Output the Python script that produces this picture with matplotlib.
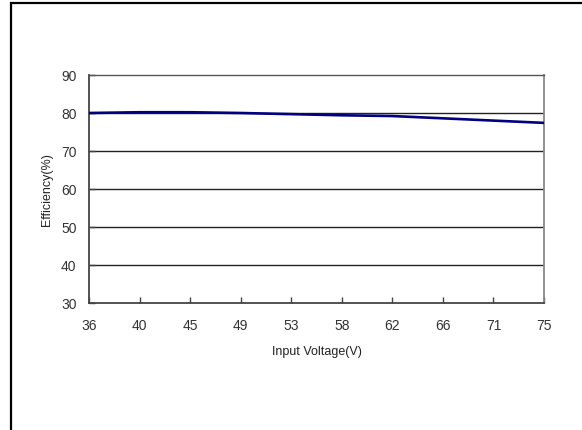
import matplotlib.pyplot as plt
from matplotlib.patches import Rectangle

plt.rcParams["font.family"] = ["Liberation Sans", "DejaVu Sans"]

voltages = ["36", "40", "45", "49", "53", "58", "62", "66", "71", "75"]
efficiency = [80.0, 80.2, 80.2, 80.0, 79.7, 79.4, 79.2, 78.6, 78.0, 77.4]
y_ticks = [30, 40, 50, 60, 70, 80, 90]

W, H = 582, 431
fig = plt.figure(figsize=(W / 100, H / 100), dpi=100)
ax = fig.add_axes([89 / W, 1 - 304 / H, (544 - 89) / W, (304 - 76) / H])

x = list(range(len(voltages)))
for yv in y_ticks[1:-1]:
    ax.axhline(yv, color="#222222", lw=1.0, zorder=1)
ax.plot(x, efficiency, color="#000080", lw=1.9, zorder=3)

ax.set_xlim(0, len(voltages) - 1)
ax.set_ylim(30, 90)
ax.set_xticks(x)
ax.set_xticklabels(voltages)
ax.set_yticks(y_ticks)

for side in ["left", "bottom"]:
    ax.spines[side].set_color("#444444")
    ax.spines[side].set_linewidth(1.3)
ax.spines["top"].set_color("#555555")
ax.spines["top"].set_linewidth(1.0)
ax.spines["right"].set_color("#888888")
ax.spines["right"].set_linewidth(1.3)

ax.tick_params(axis="x", direction="in", length=4, width=1, color="#444444",
               labelsize=10, labelcolor="#333333", pad=11)
ax.tick_params(axis="y", direction="in", length=4, width=1, color="#444444",
               labelsize=10, labelcolor="#333333", pad=9)
ax.set_xlabel("Input Voltage(V)", fontsize=9, color="#222222", labelpad=9)
ax.set_ylabel("Efficiency(%)", fontsize=9, color="#222222", labelpad=6)

# outer frame around the chart area
fig.patches.append(Rectangle((11 / W, -0.1), 1.2, 1 - 4 / H + 0.1,
                             transform=fig.transFigure, fill=False,
                             edgecolor="black", lw=1.6))

fig.savefig("out.png", dpi=100)
